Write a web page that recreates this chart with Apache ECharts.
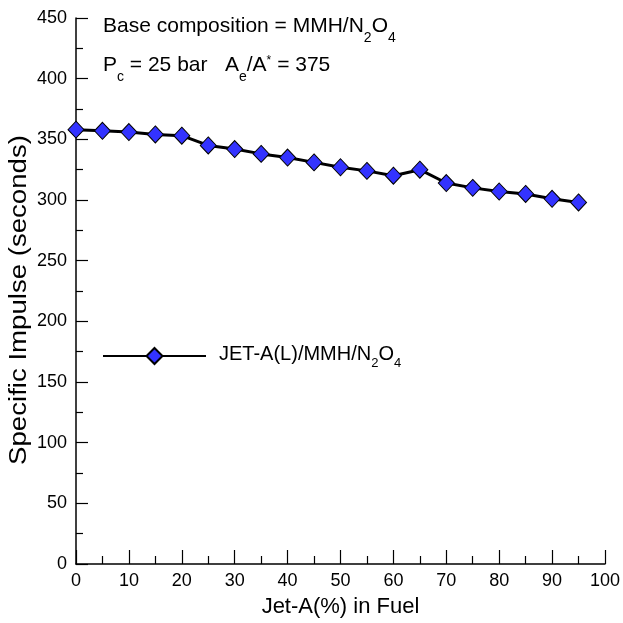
<!DOCTYPE html>
<html>
<head>
<meta charset="utf-8">
<script src="https://cdn.jsdelivr.net/npm/echarts@6/dist/echarts.min.js"></script>
<style>
html,body{margin:0;padding:0;background:#fff;}
#chart{width:623px;height:623px;}
</style>
</head>
<body>
<div id="chart"></div>
<script>
// Data
var jetAPercent = [0, 5, 10, 15, 20, 25, 30, 35, 40, 45, 50, 55, 60, 65, 70, 75, 80, 85, 90, 95];
var specificImpulse = [358, 357, 356, 354, 353, 345, 342, 338, 335, 331, 327, 324, 320, 325, 314, 310, 307, 305, 301, 298];
var seriesName = 'JET-A(L)/MMH/N2O4';
var xTicks = [0, 10, 20, 30, 40, 50, 60, 70, 80, 90, 100];
var yTicks = [0, 50, 100, 150, 200, 250, 300, 350, 400, 450];
var xTitle = 'Jet-A(%) in Fuel';
var yTitle = 'Specific Impulse (seconds)';

var FONT = '"Liberation Sans", Arial, sans-serif';
var seriesData = jetAPercent.map(function (x, i) { return [x, specificImpulse[i]]; });

var chart = echarts.init(document.getElementById('chart'));
var subStyle = { fontFamily: FONT, fontSize: 14, color: '#000', verticalAlign: 'top', lineHeight: 14, padding: [15, 0, 0, 0] };
var mainStyle = { fontFamily: FONT, fontSize: 21, color: '#000', verticalAlign: 'top', lineHeight: 26 };
var supStyle = { fontFamily: FONT, fontSize: 12, color: '#000', verticalAlign: 'top', lineHeight: 12, padding: [0, 0, 0, 0] };

chart.setOption({
  animation: false,
  backgroundColor: '#fff',
  grid: { left: 76, right: 14, top: 18, bottom: 58, containLabel: false },
  xAxis: {
    type: 'value',
    min: xTicks[0], max: xTicks[xTicks.length - 1], interval: 10,
    name: xTitle,
    nameLocation: 'middle', nameGap: 32,
    nameTextStyle: { fontFamily: FONT, fontSize: 22, color: '#000' },
    axisLine: { show: true, onZero: false, lineStyle: { color: '#000', width: 1.5 } },
    axisTick: { show: true, inside: true, length: 14, lineStyle: { color: '#000', width: 1.2 } },
    minorTick: { show: true, splitNumber: 2, length: 8, lineStyle: { color: '#000', width: 1.2 } },
    axisLabel: { fontFamily: FONT, fontSize: 18, color: '#000', margin: 8 },
    splitLine: { show: false }
  },
  yAxis: {
    type: 'value',
    min: yTicks[0], max: yTicks[yTicks.length - 1], interval: 50,
    axisLine: { show: true, onZero: false, lineStyle: { color: '#000', width: 1.5 } },
    axisTick: { show: true, inside: true, length: 12, lineStyle: { color: '#000', width: 1.2 } },
    minorTick: { show: true, splitNumber: 2, length: 7, lineStyle: { color: '#000', width: 1.2 } },
    axisLabel: { fontFamily: FONT, fontSize: 18, color: '#000', margin: 9 },
    splitLine: { show: false }
  },
  legend: {
    show: true,
    left: 102, top: 344, padding: 0,
    itemWidth: 103, itemHeight: 20,
    data: [{ name: seriesName }],
    lineStyle: { width: 2 },
    formatter: function () { return '{m|JET-A(L)/MMH/N}{s|2}{m|O}{s|4}'; },
    textStyle: {
      padding: [0, 0, 0, 8],
      rich: {
        m: { fontFamily: FONT, fontSize: 20, color: '#000', verticalAlign: 'top', lineHeight: 24 },
        s: { fontFamily: FONT, fontSize: 13, color: '#000', verticalAlign: 'top', lineHeight: 13, padding: [13, 0, 0, 0] }
      }
    }
  },
  graphic: [
    {
      type: 'text', left: 103, top: 16,
      style: {
        text: '{m|Base composition = MMH/N}{s|2}{m|O}{s|4}',
        rich: { m: mainStyle, s: subStyle }
      }
    },
    {
      type: 'text', left: 103, top: 55,
      style: {
        text: '{m|P}{s|c}{m| = 25 bar   A}{s|e}{m|/A}{p|*}{m| = 375}',
        rich: { m: mainStyle, s: subStyle, p: supStyle }
      }
    },
    {
      type: 'text', x: 20, y: 300, rotation: Math.PI / 2, scaleX: 1.2,
      style: {
        text: yTitle, fontFamily: FONT, fontSize: 23, fill: '#000',
        align: 'center', verticalAlign: 'middle'
      }
    }
  ],
  series: [{
    name: seriesName,
    type: 'line',
    data: seriesData,
    symbol: 'diamond',
    symbolSize: [16, 17],
    lineStyle: { color: '#000', width: 3 },
    itemStyle: { color: '#3333ff', borderColor: '#000', borderWidth: 1 },
    z: 3
  }]
});
</script>
</body>
</html>
